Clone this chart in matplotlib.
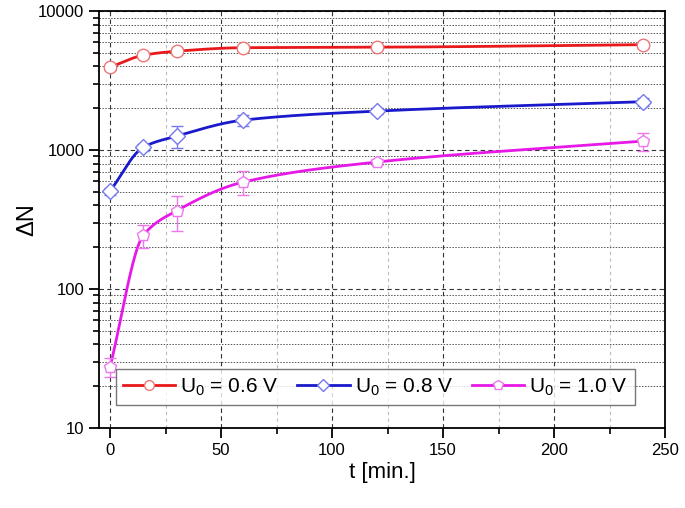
import numpy as np
import matplotlib
matplotlib.use("Agg")
import matplotlib.pyplot as plt
from matplotlib.ticker import LogLocator, FixedLocator, NullFormatter

plt.rcParams["font.family"] = ["Liberation Sans", "DejaVu Sans"]
plt.rcParams["mathtext.default"] = "regular"

# values
t = [0, 15, 30, 60, 120, 240]
n_06 = [3950, 4820, 5150, 5460, 5500, 5740]
e_06 = [180, 250, 250, 250, 200, 280]
n_08 = [507, 1050, 1262, 1644, 1908, 2230]
e_08 = [30, 60, 220, 150, 90, 160]
n_10 = [27.6, 244, 366, 589, 820, 1161]
e_10 = [4.5, 45, 105, 115, 40, 170]
labels = ["U$_0$ = 0.6 V", "U$_0$ = 0.8 V", "U$_0$ = 1.0 V"]
colors = ["#e8191b", "#1a1acc", "#e619e6"]
marker_cols = ["#ee7777", "#7777ee", "#ee77ee"]
markers = ["o", "D", "p"]


def pchip(x, y, xs):
    # monotone cubic through the points (done in log space for the smooth curves)
    x = np.asarray(x, float); y = np.asarray(y, float)
    h = np.diff(x); d = np.diff(y) / h
    m = np.zeros_like(y)
    for k in range(1, len(x) - 1):
        if d[k - 1] * d[k] > 0:
            w1 = 2 * h[k] + h[k - 1]; w2 = h[k] + 2 * h[k - 1]
            m[k] = (w1 + w2) / (w1 / d[k - 1] + w2 / d[k])
    m[0] = d[0]; m[-1] = d[-1]
    out = np.empty_like(xs)
    for i, xv in enumerate(xs):
        k = min(np.searchsorted(x, xv, side="right") - 1, len(x) - 2)
        s = (xv - x[k]) / h[k]
        h00 = 2 * s**3 - 3 * s**2 + 1; h10 = s**3 - 2 * s**2 + s
        h01 = -2 * s**3 + 3 * s**2; h11 = s**3 - s**2
        out[i] = h00 * y[k] + h10 * h[k] * m[k] + h01 * y[k + 1] + h11 * h[k] * m[k + 1]
    return out


fig = plt.figure(figsize=(6.85, 5.08), dpi=100)
ax = fig.add_axes([0.1445, 0.1575, 0.8265, 0.8205])
ax.set_yscale("log")

ts = np.linspace(0, 240, 400)
handles = []
for n, e, c, mc, mk, lb in zip([n_06, n_08, n_10], [e_06, e_08, e_10], colors,
                               marker_cols, markers, labels):
    ax.plot(ts, 10 ** pchip(t, np.log10(n), ts), color=c, lw=2, zorder=3)
    ax.errorbar(t, n, yerr=e, fmt="none", ecolor=mc, elinewidth=1, capsize=4, zorder=4)
    ax.plot(t, n, ls="none", marker=mk, ms=9 if mk != "D" else 8, mfc="white",
            mec=mc, mew=1, zorder=5)
    h, = ax.plot([], [], color=c, lw=2, marker=mk, ms=7 if mk != "D" else 6,
                 mfc="white", mec=mc, mew=1)
    handles.append(h)

ax.set_xlim(-5, 250)
ax.set_ylim(10, 10000)
ax.xaxis.set_major_locator(FixedLocator([0, 50, 100, 150, 200, 250]))
ax.xaxis.set_minor_locator(FixedLocator([25, 75, 125, 175, 225]))
ax.yaxis.set_major_locator(FixedLocator([10, 100, 1000, 10000]))
ax.yaxis.set_minor_locator(LogLocator(base=10, subs=np.arange(2, 10)))
ax.yaxis.set_minor_formatter(NullFormatter())
ax.set_yticklabels(["10", "100", "1000", "10000"])

ax.grid(True, which="major", axis="both", color="#333333", ls=(0, (4, 3)), lw=0.8)
ax.grid(True, which="minor", axis="y", color="#555555", ls=(0, (1.5, 1.5)), lw=0.7)
ax.grid(True, which="minor", axis="x", color="#bbbbbb", ls=(0, (3, 3)), lw=0.8)
ax.set_axisbelow(True)

ax.tick_params(which="major", direction="out", length=7, width=1.3, labelsize=12)
ax.tick_params(which="minor", direction="out", length=4, width=1.2)
for s in ax.spines.values():
    s.set_linewidth(1.3)

ax.set_xlabel("t [min.]", fontsize=16, labelpad=3)
ax.set_ylabel("ΔN", fontsize=17, labelpad=0)

leg = ax.legend(handles, labels, loc="lower center", ncol=3, fontsize=15,
                bbox_to_anchor=(0.488, 0.055), borderaxespad=0, frameon=True,
                fancybox=False, edgecolor="#555555", handlelength=2.5,
                columnspacing=0.9, handletextpad=0.25, borderpad=0.35)
leg.get_frame().set_linewidth(1.0)

fig.savefig("out.png", dpi=100)
